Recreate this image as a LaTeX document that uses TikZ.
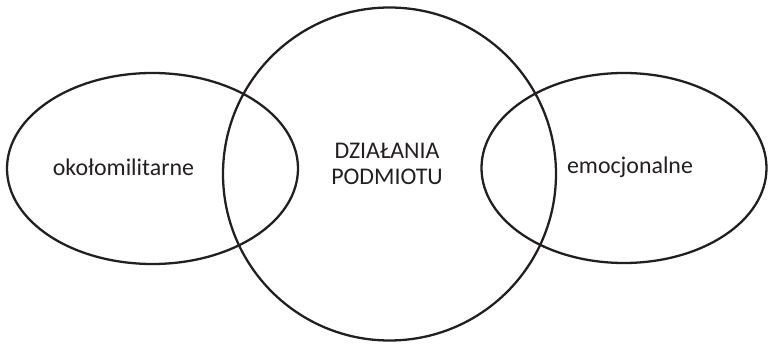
\documentclass[tikz,border=0pt]{standalone}
\usepackage{fontspec}
\setmainfont{Carlito}
\definecolor{linia}{HTML}{231F20}
\tikzset{
  krag/.style={draw=linia, line width=1.3pt},
  etykieta/.style={text=linia, font=\fontsize{13.6}{15}\selectfont, align=center, inner sep=0pt}
}
\begin{document}
\begin{tikzpicture}[x=0.02cm, y=0.02cm]

        \useasboundingbox (0,0) rectangle (768,-344);

        % Elipsa lewa
        \draw[krag] (152.5,-168.5) ellipse (145.5 and 95.5);

        % Elipsa prawa
        \draw[krag] (624,-168) ellipse (142.5 and 95);

        % Okrag centralny
        \draw[krag] (389.5,-174) circle (166.5);

        % Podpisy
        \node[etykieta] (lewa) at (123.5,-167) {okołomilitarne};
        \node[etykieta] (srodek) at (387,-164) {DZIAŁANIA\\PODMIOTU};
        \node[etykieta] (prawa) at (630,-167) {emocjonalne};
    \end{tikzpicture}
\end{document}
